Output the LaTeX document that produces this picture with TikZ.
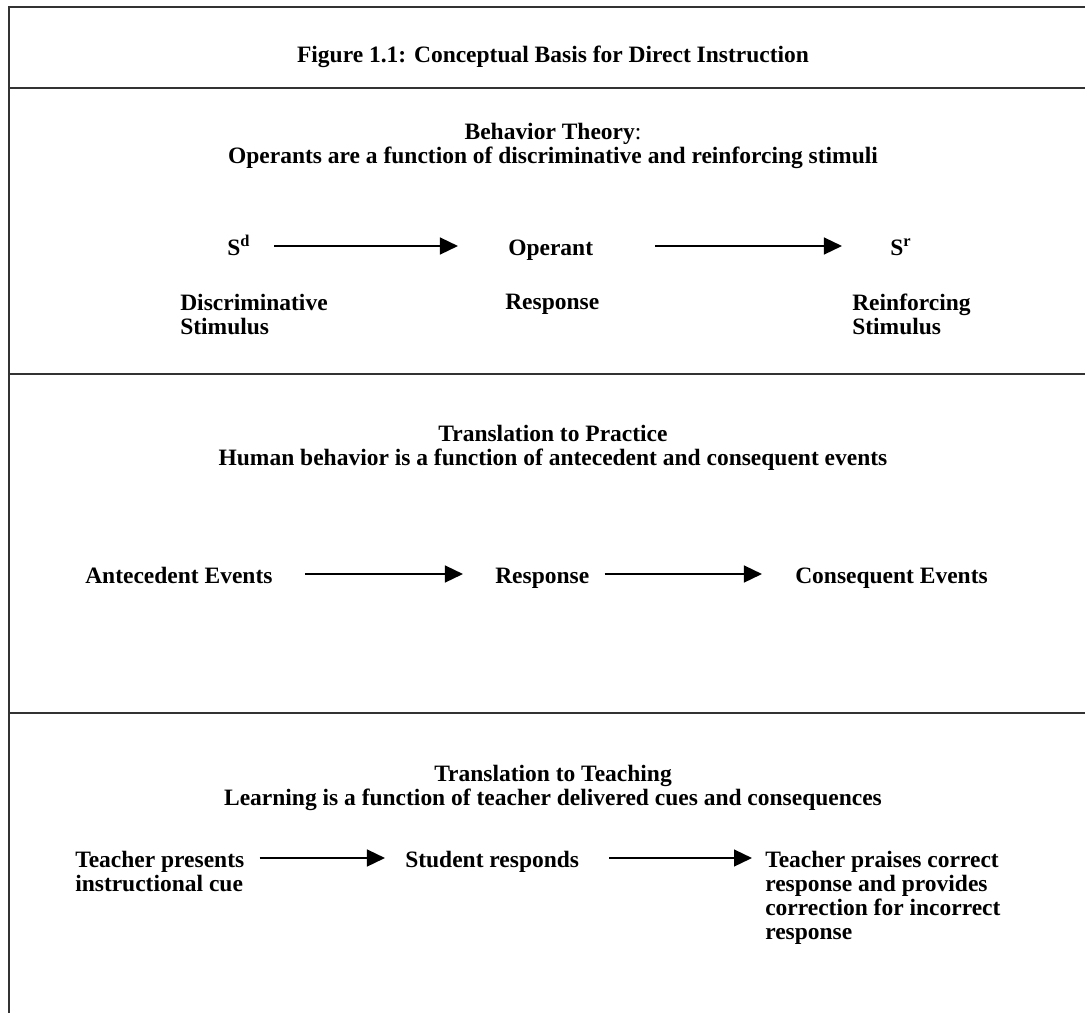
\documentclass[tikz,border=0pt]{standalone}
\usepackage{fontspec}
\setmainfont{Liberation Serif}
\usetikzlibrary{positioning,arrows.meta}

\begin{document}
\begin{tikzpicture}[x=0.025cm, y=-0.025cm, font=\fontsize{16.7}{17.1}\selectfont\bfseries,
    rule/.style={draw=black!80, line width=0.05cm},
    head/.style={inner sep=0pt, align=center, anchor=north},
    item/.style={inner sep=0pt, text height=0.45cm, text depth=0pt, anchor=base west},
    sub/.style={inner sep=0pt, align=left, anchor=north west},
    arr/.style={-{Triangle[length=0.45cm, width=0.42cm]}, line width=0.05cm}]
    \useasboundingbox (0,0) rectangle (1085,1013);
    \draw[rule] (1085,7) -- (9,7) -- (9,1013);
    \draw[rule] (9,88) -- (1085,88);
    \draw[rule] (9,374) -- (1085,374);
    \draw[rule] (9,713) -- (1085,713);

    \node[inner sep=0pt, anchor=base] (title) at (553,62) {Figure 1.1: Conceptual Basis for Direct Instruction};

    \node[head] (bth) at (553,123) {Behavior Theory\textmd{:}\\Operants are a function of discriminative and reinforcing stimuli};
    \node[item] (sd) at (227,255) {S\textsuperscript{d}};
    \node[item] (op) at (508,255) {Operant};
    \node[item] (sr) at (890,255) {S\textsuperscript{r}};
    \node[sub] (dst) at (180,294) {Discriminative\\Stimulus};
    \node[sub] (opr) at (505,294) {Response};
    \node[sub] (rst) at (852,294) {Reinforcing\\Stimulus};
    \draw[arr, shorten <=0.6cm, shorten >=1.25cm] (sd) -- (op);
    \draw[arr, shorten <=1.55cm, shorten >=1.2cm] (op) -- (sr);

    \node[head] (tph) at (553,425) {Translation to Practice\\Human behavior is a function of antecedent and consequent events};
    \node[item] (ant) at (85,583) {Antecedent Events};
    \node[item] (rsp) at (495,583) {Response};
    \node[item] (cons) at (795,583) {Consequent Events};
    \draw[arr, shorten <=0.8cm, shorten >=0.8cm] (ant) -- (rsp);
    \draw[arr, shorten <=0.375cm, shorten >=0.825cm] (rsp) -- (cons);

    \node[head] (tth) at (553,765) {Translation to Teaching\\Learning is a function of teacher delivered cues and consequences};
    \node[sub] (cue) at (75,851) {Teacher presents\\instructional cue};
    \node[item] (stud) at (405,867) {Student responds};
    \node[sub] (praise) at (765,851) {Teacher praises correct\\response and provides\\correction for incorrect\\response};
    \draw[arr, shorten <=0.375cm, shorten >=0.5cm] (cue.east |- stud) -- (stud);
    \draw[arr, shorten <=0.75cm, shorten >=0.325cm] (stud) -- (praise.west |- stud);
\end{tikzpicture}
\end{document}
